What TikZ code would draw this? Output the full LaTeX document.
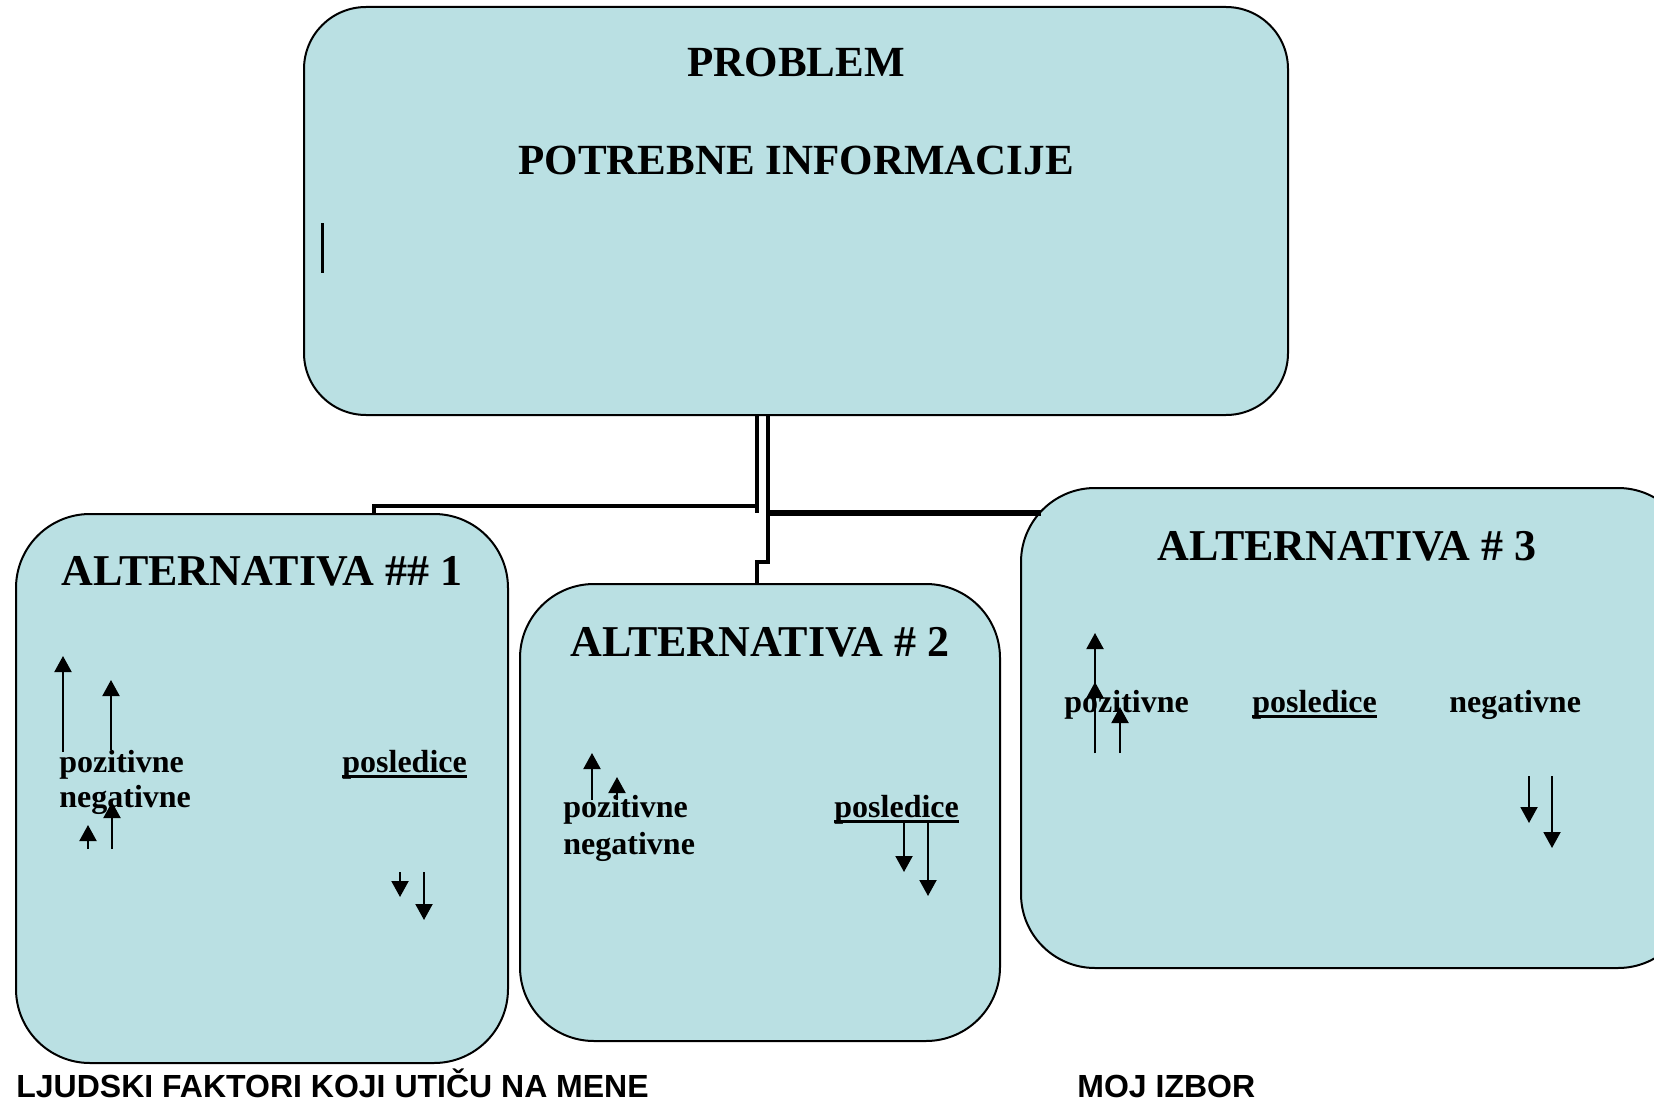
\documentclass[tikz,border=0pt]{standalone}
\usepackage{fontspec}
\setmainfont{Liberation Serif}
\newfontfamily\arialfont{Liberation Sans}
\usetikzlibrary{arrows.meta, positioning, calc}
\definecolor{boxblue}{RGB}{186,224,227}
\newcommand{\ulword}[1]{\setbox0\hbox{#1}\rlap{\rule[-3pt]{\wd0}{1.5pt}}#1}
\tikzset{
	panel/.style={rectangle, draw, line width=1pt, fill=boxblue, rounded corners=37pt},
	bus/.style={draw, line width=2.4pt},
	arr/.style={draw, line width=1pt, -{Triangle[width=8.5pt, length=8pt]}}
}

\begin{document}
\begin{tikzpicture}[
		x=0.5pt, y=-0.5pt,
		head/.style={font=\bfseries\fontsize{21.5}{26}\selectfont, inner sep=0pt, anchor=base},
		althead/.style={head, font=\bfseries\fontsize{22}{26}\selectfont},
		word/.style={font=\bfseries\fontsize{16}{19}\selectfont, inner sep=0pt, anchor=base west},
		foot/.style={font=\arialfont\bfseries\fontsize{16}{19}\selectfont, inner sep=0pt, anchor=base west}
		]
		\useasboundingbox (0,0) rectangle (1654,1102);
		\clip (0,0) rectangle (1654,1102);
		
		% --- Panels ---
		\node[panel, rounded corners=31pt, minimum width=492pt, minimum height=204pt] (problem) at (796,211) {};
		\node[panel, minimum width=246pt, minimum height=274.5pt] (alt1) at (262,788.5) {};
		\node[panel, minimum width=240pt, minimum height=228.5pt] (alt2) at (760,812.5) {};
		\node[panel, minimum width=335.5pt, minimum height=240pt] (alt3) at (1356.5,728) {};
		
		% --- Top panel text ---
		\node[head] (problem_title) at (796,77) {PROBLEM};
		\node[head] (problem_info) at (796,175) {POTREBNE INFORMACIJE};
		\coordinate (cursor_top) at (322,223);
		\coordinate (cursor_bot) at (322,273);
		\draw[line width=1.5pt] (cursor_top) -- (cursor_bot);
		
		% --- Tree connectors ---
		\coordinate (bus_left) at (757,506);
		\coordinate (bus_right) at (768,513);
		\coordinate (drop_alt1) at (374,506);
		\coordinate (jog_alt2) at (768,562);
		\coordinate (hit_alt3) at (1041,513);
		
		\draw[bus] (problem.south -| bus_left) -- (bus_left |- bus_right);
		\draw[bus] (bus_left) -- (drop_alt1) -- (drop_alt1 |- alt1.north);
		\draw[bus, line width=1.8pt] (problem.south -| bus_right) -- (bus_right);
		\draw[bus, line width=2.7pt] (bus_right) -- (hit_alt3);
		\draw[bus, line width=1.8pt] (bus_right) -- (jog_alt2) -- (jog_alt2 -| bus_left) -- (bus_left |- alt2.north);
		
		% --- Alternativa 1 ---
		\node[althead] (alt1_title) at (262,585) {ALTERNATIVA \#\# 1};
		\node[word] (alt1_poz) at (59,772) {pozitivne};
		\node[word] (alt1_neg) at (59,807) {negativne};
		\node[word] (alt1_pos) at (342,772) {\ulword{posledice}};
		\draw[arr] (63,752) -- (63,656);
		\draw[arr] (111,750) -- (111,680);
		\draw[arr] (88,849) -- (88,825);
		\draw[arr] (112,849) -- (112,802);
		\draw[arr] (400,872) -- (400,897);
		\draw[arr] (424,872) -- (424,920);
		
		% --- Alternativa 2 ---
		\node[althead] (alt2_title) at (760,656) {ALTERNATIVA \# 2};
		\node[word] (alt2_poz) at (563,817) {pozitivne};
		\node[word] (alt2_neg) at (563,854) {negativne};
		\node[word] (alt2_pos) at (834,817) {\ulword{posledice}};
		\draw[arr] (592,800) -- (592,753);
		\draw[arr] (617,800) -- (617,777);
		\draw[arr] (904,823) -- (904,872);
		\draw[arr] (928,823) -- (928,896);
		
		% --- Alternativa 3 ---
		\node[althead] (alt3_title) at (1347,560) {ALTERNATIVA \# 3};
		\node[word] (alt3_poz) at (1064,712) {pozitivne};
		\node[word] (alt3_pos) at (1252,712) {\ulword{posledice}};
		\node[word] (alt3_neg) at (1449,712) {negativne};
		\draw[arr] (1095,753) -- (1095,633);
		\draw[arr] (1095,753) -- (1095,682);
		\draw[arr] (1120,753) -- (1120,707);
		\draw[arr] (1529,776) -- (1529,823);
		\draw[arr] (1552,776) -- (1552,848);
		
		% --- Footer ---
		\node[foot] (factors) at (16,1097) {LJUDSKI FAKTORI KOJI UTIČU NA MENE};
		\node[foot] (choice) at (1077,1097) {MOJ IZBOR};
		
	\end{tikzpicture}
\end{document}
